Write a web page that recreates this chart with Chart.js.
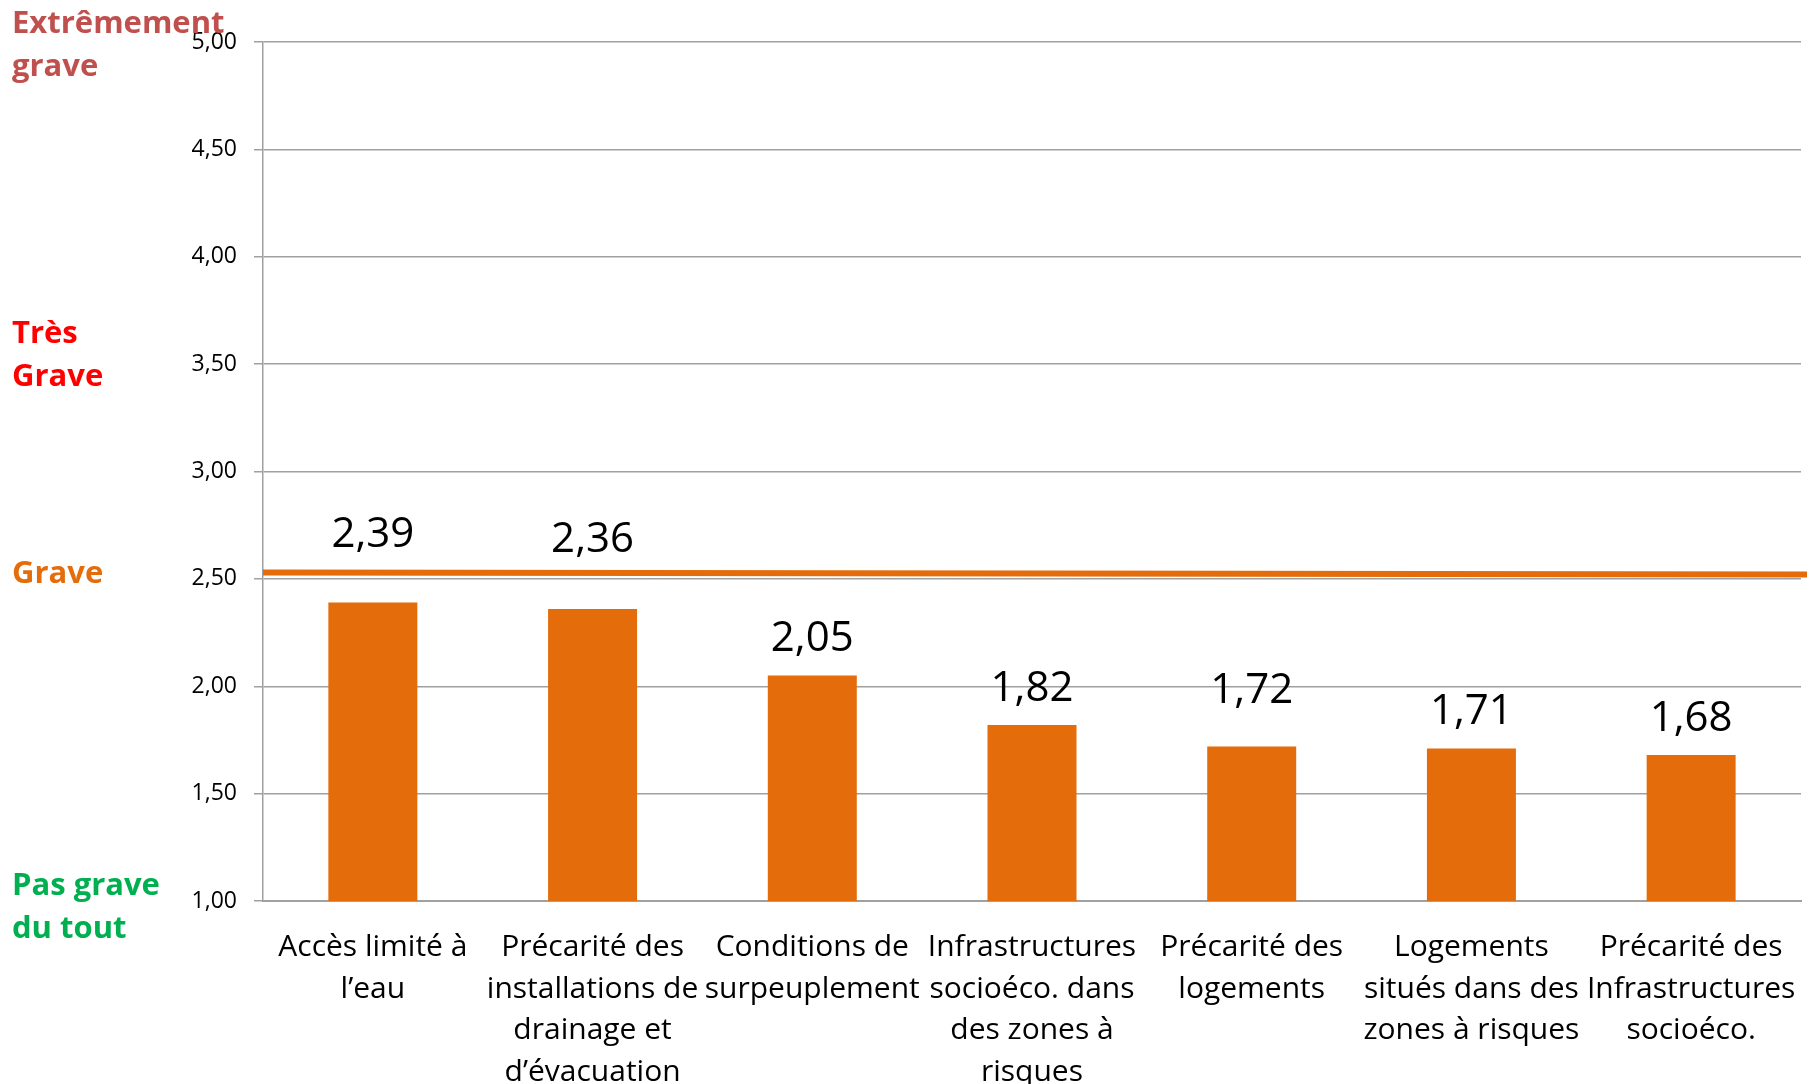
<!DOCTYPE html>
<html>
<head>
<meta charset="utf-8">
<script src="https://cdn.jsdelivr.net/npm/chart.js@4.4.1/dist/chart.umd.min.js"></script>
<style>
  html, body { margin: 0; padding: 0; background: #fff; }
  #wrap { width: 1810px; height: 1084px; }
</style>
</head>
<body>
<div id="wrap"><canvas id="c" width="1810" height="1084"></canvas></div>
<script>
// data
const categories = [
  ['Accès limité à', 'l’eau'],
  ['Précarité des', 'installations de', 'drainage et', 'd’évacuation'],
  ['Conditions de', 'surpeuplement'],
  ['Infrastructures', 'socioéco. dans', 'des zones à', 'risques'],
  ['Précarité des', 'logements'],
  ['Logements', 'situés dans des', 'zones à risques'],
  ['Précarité des', 'Infrastructures', 'socioéco.']
];
const scores = [2.39, 2.36, 2.05, 1.82, 1.72, 1.71, 1.68];
const graveLine = [2.53, 2.52];           // threshold line, left end -> right end
const yMin = 1, yMax = 5, yStep = 0.5;
const severityText = [
  ['Extrêmement', 'grave'],
  ['Très', 'Grave'],
  ['Grave'],
  ['Pas grave', 'du tout']
];

const FONT = '"Open Sans", "Liberation Sans", sans-serif';
const ORANGE = '#E46C0A';
const GRID = '#A0A0A0';

const fmt = v => v.toFixed(2).replace('.', ',');

// severity captions on the left, anchored to the y scale
const severityStyle = [
  { color: '#C0504D', at: 5.04 },
  { color: '#FF0000', at: 3.60 },
  { color: ORANGE,    at: 2.48 },
  { color: '#00B050', at: 1.03 }
];
// extra lift for a few value labels (they were nudged by hand in the original)
const labelLift = [31, 33, 0, 0, 19, 0, 0];

const overlay = {
  id: 'overlay',
  afterDatasetsDraw(chart) {
    const { ctx, chartArea, scales: { y } } = chart;
    ctx.save();

    // "grave" threshold line
    ctx.strokeStyle = ORANGE;
    ctx.lineWidth = 6;
    ctx.beginPath();
    ctx.moveTo(chartArea.left, y.getPixelForValue(graveLine[0]));
    ctx.lineTo(chartArea.right + 6, y.getPixelForValue(graveLine[1]));
    ctx.stroke();

    // value labels
    ctx.fillStyle = '#000';
    ctx.font = '42px ' + FONT;
    ctx.textAlign = 'center';
    ctx.textBaseline = 'middle';
    chart.getDatasetMeta(0).data.forEach((bar, i) => {
      ctx.fillText(fmt(scores[i]), bar.x, bar.y - 36 - labelLift[i]);
    });

    // severity captions
    ctx.font = 'bold 31px ' + FONT;
    ctx.textAlign = 'left';
    ctx.textBaseline = 'alphabetic';
    severityText.forEach((lines, i) => {
      const s = severityStyle[i];
      ctx.fillStyle = s.color;
      const base = y.getPixelForValue(s.at);
      lines.forEach((t, k) => ctx.fillText(t, 12, base + k * 43));
    });
    ctx.restore();
  }
};

new Chart(document.getElementById('c'), {
  type: 'bar',
  data: {
    labels: categories,
    datasets: [{
      data: scores,
      backgroundColor: ORANGE,
      borderWidth: 0,
      barPercentage: 0.405,
      categoryPercentage: 1
    }]
  },
  options: {
    responsive: false,
    devicePixelRatio: 1,
    animation: false,
    layout: { padding: { top: 42, right: 9, left: 0, bottom: 0 } },
    plugins: { legend: { display: false }, tooltip: { enabled: false } },
    scales: {
      x: {
        grid: { display: false, drawTicks: false },
        border: { color: GRID, width: 2 },
        ticks: {
          color: '#000', padding: 26, maxRotation: 0, autoSkip: false,
          font: { family: FONT, size: 30, lineHeight: 1.385 }
        },
        // long wrapped labels may spill past the plot edge, as in the original
        afterFit(s) { s.height = 183; s.paddingLeft = 0; s.paddingRight = 0; }
      },
      y: {
        min: yMin, max: yMax,
        grid: { color: GRID, lineWidth: 1.5, tickLength: 9 },
        border: { color: GRID, width: 1.5 },
        ticks: {
          stepSize: yStep, color: '#000', padding: 17,
          font: { family: FONT, size: 23 },
          callback: v => fmt(v)
        },
        afterFit(s) { s.width = 263; }
      }
    }
  },
  plugins: [overlay]
});
</script>
</body>
</html>
